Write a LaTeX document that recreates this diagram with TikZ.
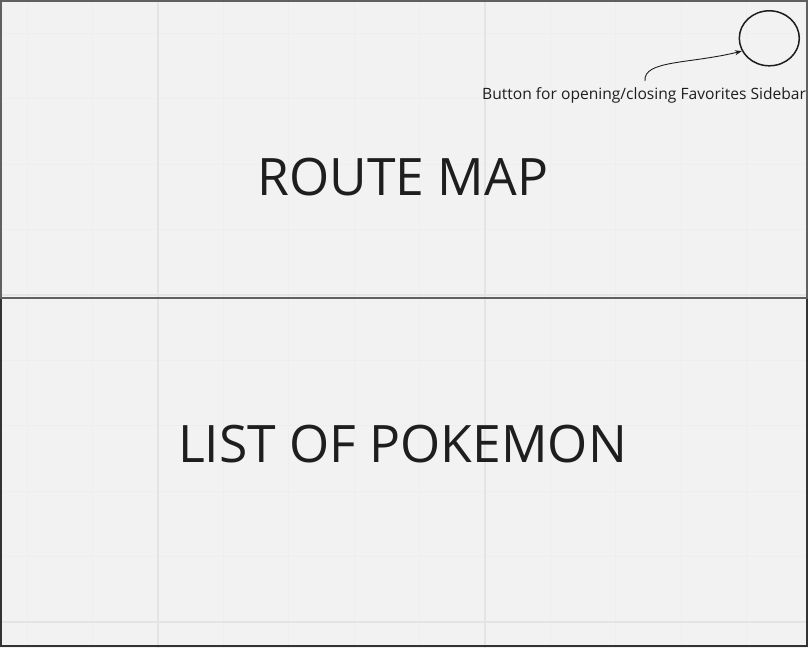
\documentclass[tikz,border=0pt]{standalone}
\usepackage{fontspec}
\setmainfont{Open Sans}
\usetikzlibrary{shapes.geometric, arrows.meta}
\definecolor{canvas}{RGB}{242,242,242}
\definecolor{grid-minor}{RGB}{238,238,238}
\definecolor{grid-major}{RGB}{228,228,228}
\definecolor{frame-top}{RGB}{96,96,96}
\definecolor{frame-bottom}{RGB}{51,51,51}
\definecolor{ink}{RGB}{30,30,30}
\tikzset{
    minor line/.style = {grid-minor, line width=1.2pt},
    major line/.style = {grid-major, line width=2pt},
    panel/.style = {line width=2pt},
    title/.style = {text=ink, font=\fontsize{51.6}{60}\selectfont, inner sep=0pt},
    caption/.style = {text=ink, font=\fontsize{15.6}{18}\selectfont, inner sep=0pt},
    button/.style = {ellipse, draw=ink, line width=1.5pt, minimum width=60pt, minimum height=55pt, inner sep=0pt},
}

\begin{document}
\begin{tikzpicture}[x=1pt,y=-1pt]

\fill[canvas] (0,0) rectangle (808,648);
\useasboundingbox (0,0) rectangle (808,648);

% grid
\foreach \k in {-2,...,9} {
    \draw[minor line] ({158+65.4*\k},0) -- ++(0,648);
}
\foreach \k in {0,...,9} {
    \draw[minor line] (0,{622-65.4*\k}) -- ++(808,0);
}
\foreach \x in {158,485} {
    \draw[major line] (\x,0) -- (\x,648);
}
\foreach \y in {295,622} {
    \draw[major line] (0,\y) -- (808,\y);
}

% panels
\draw[panel, frame-bottom] (1,298) rectangle (807,646);
\draw[panel, frame-top] (1,1) rectangle (807,298);

\node[title, anchor=base] (route) at (403,195) {ROUTE MAP};
\node[title, anchor=base] (list) at (402.5,462) {LIST OF POKEMON};

\node[button] (btn) at (769.3,38.3) {};
\node[caption, anchor=base west] (hint) at (482,99) {Button for opening/closing Favorites Sidebar};
\coordinate (hint-tip) at (645,81);
\draw[-{Stealth[length=7pt,width=5pt]}, line width=0.9pt, ink] (hint-tip) .. controls (643,60) and (690,64) .. (btn.205);

\end{tikzpicture}
\end{document}
